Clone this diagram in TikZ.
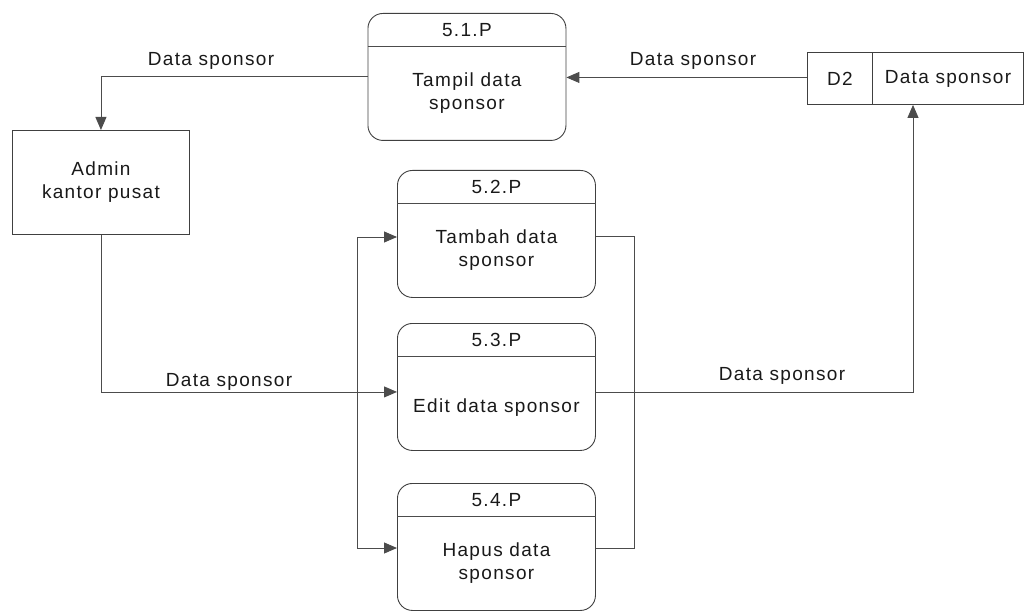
\documentclass[tikz,border=0pt]{standalone}
\usepackage{fontspec}
\setmainfont{Liberation Sans}[LetterSpace=7]
\usetikzlibrary{arrows.meta}
\begin{document}
\begin{tikzpicture}[x=1pt,y=-1pt,
  every node/.style={font=\fontsize{19}{23}\selectfont, inner sep=0pt, text=black!90},
  procbox/.style={draw=black!75, line width=0.9pt, rounded corners=15pt, minimum width=198pt, minimum height=127pt, anchor=north west},
  plainbox/.style={draw=black!75, line width=0.9pt, anchor=north west},
  flow/.style={draw=black!70, line width=0.9pt},
  arr/.style={flow, -{Triangle[length=13pt,width=11pt]}},
  lbl/.style={align=center}]
\useasboundingbox (0,0) rectangle (1030,612);
% processes
\newcommand{\procnode}[6]{%
  \node[procbox] (#1) at (#2,#3) {};
  \draw[flow] ([yshift=-33pt]#1.north west) -- ([yshift=-33pt]#1.north east);
  \node[lbl] (#1h) at ([yshift=-17pt]#1.north) {#4};
  \node[lbl] (#1b) at ([yshift=-#6]#1.center) {#5};
}
\procnode{pa}{367.5}{13}{5.1.P}{Tampil data\\sponsor}{16pt}
\procnode{pb}{397}{170}{5.2.P}{Tambah data\\sponsor}{16pt}
\procnode{pc}{397}{323}{5.3.P}{Edit data sponsor}{21pt}
\procnode{pd}{397}{483}{5.4.P}{Hapus data\\sponsor}{16pt}
% external entity
\node[plainbox, minimum width=177pt, minimum height=104pt] (admin) at (12,130) {};
\node[lbl] (admint) at (admin.center) {Admin\\kantor pusat};
% data store
\node[plainbox, minimum width=65pt, minimum height=52pt] (dsid) at (807,52) {D2};
\node[plainbox, minimum width=151pt, minimum height=52pt] (ds) at (872,52) {Data sponsor};
% connectors
\draw[arr] (pa.west) -| (admin.north);
\draw[arr] ([yshift=1pt]dsid.west) -- ([yshift=1pt]dsid.west -| pa.east);
\coordinate (c3) at ([yshift=-5pt]pc.west);
\draw[arr] (admin.south) |- (c3);
\coordinate (lt) at (357,237);
\coordinate (lb) at (357,548);
\draw[arr] (lb) -- (lt) -- (lt -| pb.west);
\draw[arr] (lb) -- (lb -| pd.west);
\coordinate (rt) at (634,236);
\coordinate (rb) at (634,548);
\draw[flow] (rt -| pb.east) -- (rt) -- (rb) -- (rb -| pd.east);
\coordinate (r3) at (913,392);
\draw[arr] (r3 -| pc.east) -- (r3) -- (r3 |- ds.south);
% labels
\node (l1) at (211,61) {Data sponsor};
\node (l2) at (693,61) {Data sponsor};
\node (l3) at (229,382) {Data sponsor};
\node (l4) at (782,376) {Data sponsor};
\end{tikzpicture}
\end{document}
